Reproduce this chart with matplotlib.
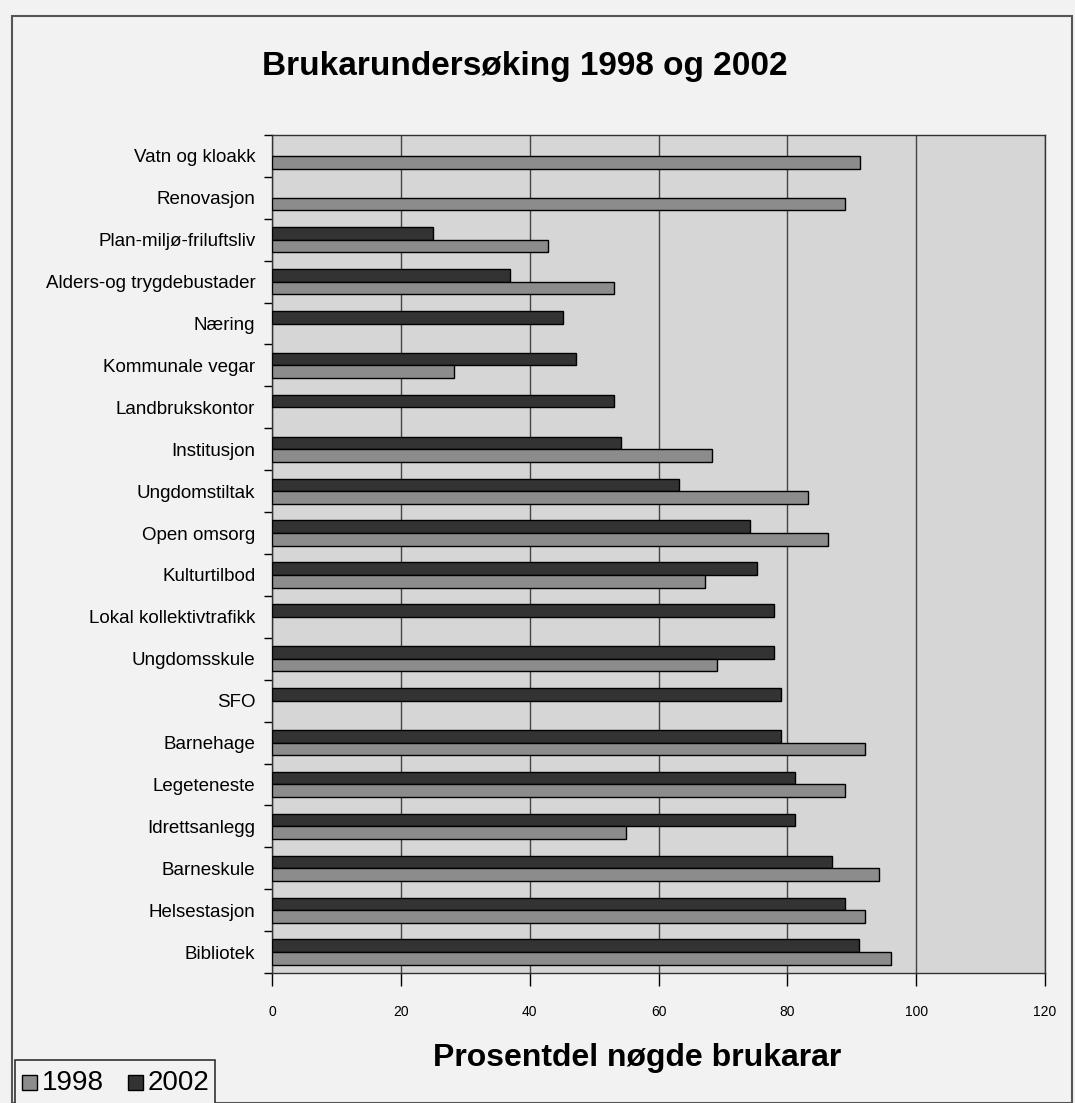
import numpy as np
import matplotlib
matplotlib.use("Agg")
import matplotlib.pyplot as plt
from matplotlib.patches import Rectangle

plt.rcParams['font.family'] = ['Liberation Sans Narrow', 'Liberation Sans', 'DejaVu Sans']

# data (None = no bar)
categories = ["Vatn og kloakk", "Renovasjon", "Plan-miljø-friluftsliv",
              "Alders-og trygdebustader", "Næring", "Kommunale vegar",
              "Landbrukskontor", "Institusjon", "Ungdomstiltak", "Open omsorg",
              "Kulturtilbod", "Lokal kollektivtrafikk", "Ungdomsskule", "SFO",
              "Barnehage", "Legeteneste", "Idrettsanlegg", "Barneskule",
              "Helsestasjon", "Bibliotek"]
v2002 = [None, None, 25.0, 37.0, 45.1, 47.2, 53.1, 54.2, 63.2, 74.2,
         75.3, 77.9, 77.9, 79.0, 79.0, 81.2, 81.2, 87.0, 89.0, 91.2]
v1998 = [91.3, 89.0, 42.9, 53.1, None, 28.2, None, 68.3, 83.2, 86.3,
         67.2, None, 69.1, None, 92.0, 89.0, 54.9, 94.2, 92.0, 96.1]
xticks = [0, 20, 40, 60, 80, 100, 120]

W, H = 1075, 1103
fig = plt.figure(figsize=(W / 100, H / 100), dpi=100)
fig.patch.set_facecolor('#f2f2f2')

ax = fig.add_axes([272 / W, 1 - 973 / H, (1045 - 272) / W, (973 - 135) / H])
ax.set_facecolor('#d6d6d6')

y = np.arange(len(categories))
h = 0.3
a02 = np.array([np.nan if v is None else v for v in v2002])
a98 = np.array([np.nan if v is None else v for v in v1998])
ax.barh(y - h / 2, a02, height=h, color='#333333', edgecolor='black', linewidth=1, zorder=3)
ax.barh(y + h / 2, a98, height=h, color='#8c8c8c', edgecolor='black', linewidth=1, zorder=3)

ax.set_xlim(0, 120)
ax.set_ylim(len(categories) - 0.5, -0.5)
ax.set_xticks(xticks)
ax.set_xticklabels([str(t) for t in xticks], fontsize=10)
ax.xaxis.grid(True, color='#444444', linewidth=1, zorder=1)
ax.set_axisbelow(True)
ax.tick_params(axis='x', direction='out', length=9, width=1, pad=14)

ax.set_yticks(y)
ax.set_yticklabels(categories, fontsize=13.5)
ax.set_yticks(np.arange(len(categories) + 1) - 0.5, minor=True)
ax.tick_params(axis='y', which='major', length=0, pad=12)
ax.tick_params(axis='y', which='minor', direction='out', length=6, width=1)
for s in ax.spines.values():
    s.set_color('#333333')
    s.set_linewidth(1)

fig.text(525 / W, 1 - 66 / H, "Brukarundersøking 1998 og 2002", fontsize=24,
         fontweight='bold', ha='center', va='center')
fig.text(637 / W, 1 - 1058 / H, "Prosentdel nøgde brukarar", fontsize=23,
         fontweight='bold', ha='center', va='center')

# outer frame of the chart
fig.add_artist(Rectangle((12 / W, 0), (1072 - 12) / W, 1 - 16 / H,
                         transform=fig.transFigure, fill=False,
                         edgecolor='#555555', linewidth=1.5))

# legend box bottom left
fig.add_artist(Rectangle((15 / W, -0.01), (215 - 15) / W, (1103 - 1060) / H + 0.01,
                         transform=fig.transFigure, facecolor='#f2f2f2',
                         edgecolor='#333333', linewidth=1.2))
leg_items = [("1998", '#8c8c8c', 22), ("2002", '#333333', 128)]
for lab, col, x0 in leg_items:
    fig.add_artist(Rectangle((x0 / W, 1 - 1090 / H), 15 / W, 15 / H,
                             transform=fig.transFigure, facecolor=col,
                             edgecolor='black', linewidth=1))
    fig.text((x0 + 20) / W, 1 - 1083 / H, lab, fontsize=20, ha='left', va='center')

fig.savefig("out.png", dpi=100, facecolor=fig.get_facecolor())
